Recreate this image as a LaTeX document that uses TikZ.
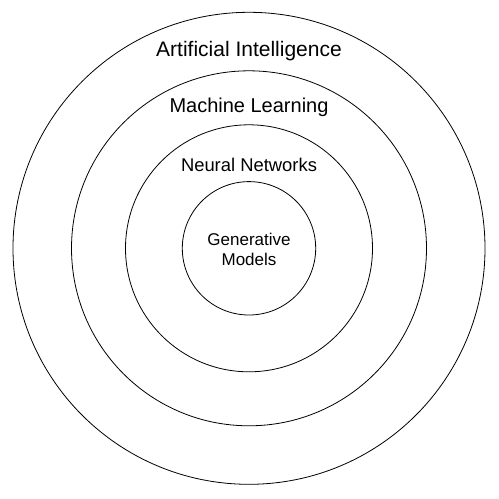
\documentclass[tikz,border=0pt]{standalone}
\usepackage{fontspec}
\setmainfont{Liberation Sans}
\usepackage{tikz}
\usetikzlibrary{positioning}

\tikzset{
  ring/.style={draw=black,line width=0.8pt},
  ringlabel/.style={anchor=base,inner sep=0pt}
}

\begin{document}
\begin{tikzpicture}[x=1pt,y=-1pt]
\useasboundingbox (0,0) rectangle (499,499);
\coordinate (ctr) at (249,248.3);
% nested circles
\foreach \r in {236,177.5,123.5,66.7}{
  \draw[ring] (ctr) circle (\r pt);
}
% labels
\node[ringlabel,font=\fontsize{21}{25}\selectfont] (ai) at (249,56.7) {Artificial Intelligence};
\node[ringlabel,font=\fontsize{20}{24}\selectfont] (ml) at (249,112.7) {Machine Learning};
\node[ringlabel,font=\fontsize{18.4}{22}\selectfont] (nn) at (249,171.7) {Neural Networks};
\node[anchor=center,inner sep=0pt,align=center,font=\fontsize{17}{20.5}\selectfont] (gm) at (249,249.4) {Generative\\Models};
\end{tikzpicture}
\end{document}
